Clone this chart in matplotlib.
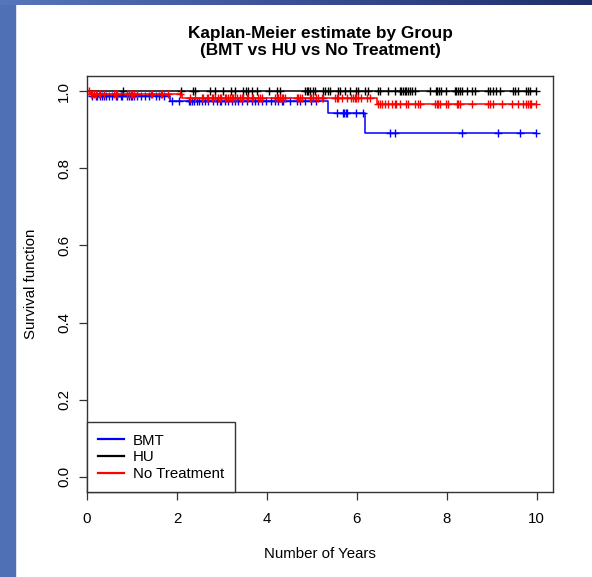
import numpy as np
import matplotlib
matplotlib.use("Agg")
import matplotlib.pyplot as plt
from matplotlib.patches import Rectangle
from matplotlib.colors import LinearSegmentedColormap

plt.rcParams['font.family'] = ['Liberation Sans', 'DejaVu Sans']

# groups and colours
groups = ["BMT", "HU", "No Treatment"]
colors = ["#0000ff", "#000000", "#ff0000"]

# event times (years) and survival after each event
bmt_event_t = [0.12, 1.85, 5.36, 6.18]
bmt_event_s = [0.987, 0.975, 0.945, 0.891]
hu_event_t = []
hu_event_s = []
nt_event_t = [0.06, 2.12, 6.44]
nt_event_s = [0.994, 0.983, 0.967]

# censoring times (years)
bmt_cens = [0.12, 0.19, 0.23, 0.30, 0.34, 0.38, 0.42, 0.49, 0.56, 0.64, 0.67, 0.75,
            0.78, 0.90, 0.93, 0.97, 1.01, 1.04, 1.12, 1.19, 1.30, 1.38, 1.53, 1.60,
            1.71, 1.90, 2.04, 2.27, 2.30, 2.34, 2.38, 2.45, 2.49, 2.55, 2.62, 2.70,
            2.81, 2.88, 2.96, 2.99, 3.07, 3.14, 3.22, 3.29, 3.36, 3.44, 3.55, 3.66,
            3.73, 3.81, 3.88, 3.99, 4.10, 4.18, 4.25, 4.33, 4.36, 4.51, 4.66, 4.73,
            4.84, 4.99, 5.10, 5.55, 5.70, 5.72, 5.75, 5.77, 5.99, 6.14, 6.73, 6.84,
            8.33, 9.14, 9.62, 9.99]
hu_cens = [0.81, 2.10, 2.36, 2.40, 2.73, 2.84, 3.02, 3.21, 3.29, 3.47, 3.53, 3.58,
           3.66, 3.77, 4.05, 4.23, 4.29, 4.84, 4.88, 4.92, 4.96, 5.03, 5.07, 5.25,
           5.29, 5.36, 5.40, 5.58, 5.62, 5.73, 5.84, 5.99, 6.03, 6.18, 6.25, 6.47,
           6.51, 6.70, 6.84, 6.96, 6.99, 7.03, 7.07, 7.10, 7.14, 7.18, 7.22, 7.29,
           7.62, 7.76, 7.78, 7.83, 7.88, 7.99, 8.18, 8.21, 8.25, 8.29, 8.33, 8.44,
           8.55, 8.62, 8.92, 8.96, 9.03, 9.10, 9.18, 9.47, 9.51, 9.58, 9.77, 9.81,
           9.84, 9.99]
nt_cens = [0.01, 0.04, 0.08, 0.12, 0.16, 0.19, 0.27, 0.30, 0.38, 0.60, 0.64, 0.67,
           0.90, 0.93, 0.97, 1.01, 1.04, 1.12, 1.42, 1.45, 1.64, 1.67, 1.81, 2.07,
           2.29, 2.40, 2.55, 2.58, 2.66, 2.70, 2.77, 2.81, 2.84, 2.92, 2.96, 2.99,
           3.07, 3.10, 3.14, 3.18, 3.22, 3.25, 3.29, 3.33, 3.40, 3.44, 3.47, 3.55,
           3.58, 3.66, 3.70, 3.81, 3.84, 3.88, 4.18, 4.22, 4.25, 4.29, 4.33, 4.36,
           4.40, 4.66, 4.70, 4.73, 4.77, 4.96, 4.99, 5.03, 5.10, 5.14, 5.22, 5.25,
           5.51, 5.55, 5.58, 5.66, 5.77, 5.88, 5.92, 5.96, 5.99, 6.03, 6.10, 6.22,
           6.29, 6.47, 6.51, 6.55, 6.62, 6.70, 6.77, 6.84, 6.88, 6.96, 7.10, 7.14,
           7.29, 7.36, 7.40, 7.73, 7.77, 7.81, 7.84, 7.99, 8.03, 8.22, 8.25, 8.29,
           8.55, 8.92, 8.96, 9.03, 9.22, 9.44, 9.58, 9.70, 9.77, 9.81, 9.84, 9.88,
           9.99]

xticks = [0, 2, 4, 6, 8, 10]
yticks = [0.0, 0.2, 0.4, 0.6, 0.8, 1.0]


def km_steps(ev_t, ev_s, cens):
    t_end = max(cens)
    x = np.concatenate([[0.0], ev_t, [t_end]])
    y = np.concatenate([[1.0], ev_s, [ev_s[-1] if len(ev_s) else 1.0]])
    return x, y


fig = plt.figure(figsize=(5.92, 5.77), dpi=100)

# slide background bands
fig.patches.append(Rectangle((0, 0), 15 / 592, 1, transform=fig.transFigure,
                             color="#5070b6", zorder=-5))
bg = fig.add_axes([0, 1 - 5 / 577, 1, 5 / 577])
cmap = LinearSegmentedColormap.from_list("band", ["#5777bb", "#3a4f95", "#1f2f6a"])
bg.imshow(np.linspace(0, 1, 256)[None, :], aspect="auto", cmap=cmap,
          extent=[0, 1, 0, 1])
bg.axis("off")

ax = fig.add_axes([87 / 592, 85 / 577, 466 / 592, 416 / 577])

curves = [(bmt_event_t, bmt_event_s, bmt_cens),
          (hu_event_t, hu_event_s, hu_cens),
          (nt_event_t, nt_event_s, nt_cens)]

for (ev_t, ev_s, cens), col, name in zip(curves, colors, groups):
    x, y = km_steps(ev_t, ev_s, cens)
    ax.step(x, y, where="post", color=col, lw=1.1, label=name)
    ct = np.array(cens)
    cs = y[np.searchsorted(x, ct, side="right") - 1]
    ax.plot(ct, cs, ls="none", marker="+", ms=6, mew=1.0, color=col)

ax.set_xlim(0, 10.36)
ax.set_ylim(-0.04, 1.04)
ax.set_xticks(xticks)
ax.set_xticklabels([str(v) for v in xticks])
ax.set_yticks(yticks)
ax.set_yticklabels(["%.1f" % v for v in yticks], rotation=90, va="center")
ax.tick_params(labelsize=10.8, length=5.5, width=0.9, color="#333333", pad=6)
ax.tick_params(axis="x", pad=9)
for sp in ax.spines.values():
    sp.set_color("#333333")
    sp.set_linewidth(1.0)

ax.set_xlabel("Number of Years", fontsize=10.8, labelpad=15)
ax.set_ylabel("Survival function", fontsize=10.8, labelpad=14)
fig.text(320 / 592, 1 - 42 / 577,
         "Kaplan-Meier estimate by Group\n(BMT vs HU vs No Treatment)",
         ha="center", va="center", fontsize=12.4, fontweight="bold",
         linespacing=1.2)

leg = ax.legend(loc="lower left", borderaxespad=0, fontsize=10.8, fancybox=False,
                edgecolor="#333333", framealpha=1, borderpad=0.75,
                handlelength=1.7, handletextpad=0.6, labelspacing=0.17)
leg.get_frame().set_linewidth(1.0)
for h in leg.legend_handles:
    h.set_linewidth(1.6)

fig.savefig("out.png", dpi=100, facecolor="white")
